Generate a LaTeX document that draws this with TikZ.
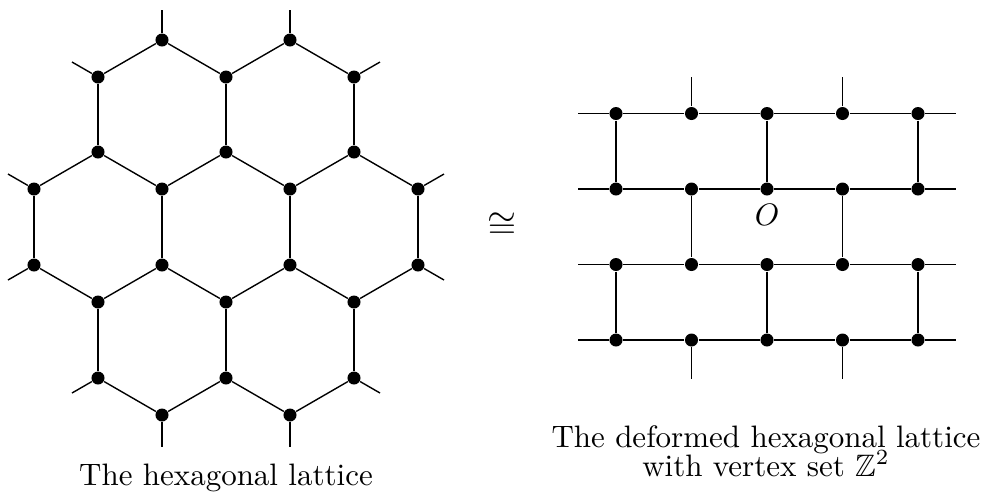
\documentclass[tikz,border=0pt]{standalone}
\usepackage{amsmath,amssymb}
\usetikzlibrary{positioning}

\begin{document}
\begin{tikzpicture}[
    x=0.3226pt, y=-0.3226pt,
    dot/.style={circle, fill=black, inner sep=0pt, minimum size=4.2pt},
    edge/.style={line width=0.45pt},
    caption/.style={inner sep=0pt, align=center},
  ]
  \useasboundingbox (0,0) rectangle (987,491);
  % hexagonal lattice, vertices h<col>-<row>
  \foreach \i/\j/\y in {2/0/40, 4/0/40, 1/1/77, 3/1/77, 5/1/77,
      1/2/152, 3/2/152, 5/2/152, 0/3/189, 2/3/189, 4/3/189, 6/3/189,
      0/4/265, 2/4/265, 4/4/265, 6/4/265, 1/5/302, 3/5/302, 5/5/302,
      1/6/378, 3/6/378, 5/6/378, 2/7/415, 4/7/415}
    \node[dot] (h\i-\j) at ({34+64*\i},\y) {};
  \foreach \a/\b in {2-0/1-1, 2-0/3-1, 4-0/3-1, 4-0/5-1,
      1-1/1-2, 3-1/3-2, 5-1/5-2,
      1-2/0-3, 1-2/2-3, 3-2/2-3, 3-2/4-3, 5-2/4-3, 5-2/6-3,
      0-3/0-4, 2-3/2-4, 4-3/4-4, 6-3/6-4,
      0-4/1-5, 2-4/1-5, 2-4/3-5, 4-4/3-5, 4-4/5-5, 6-4/5-5,
      1-5/1-6, 3-5/3-6, 5-5/5-6,
      1-6/2-7, 3-6/2-7, 3-6/4-7, 5-6/4-7}
    \draw[edge] (h\a) -- (h\b);
  % loose ends
  \foreach \v/\x/\y [count=\k] in {2-0/162/10, 4-0/290/10, 1-1/72/62, 5-1/380/62,
      0-3/8/174, 6-3/444/174, 0-4/8/280, 6-4/444/280,
      1-6/72/393, 5-6/380/393, 2-7/162/447, 4-7/290/447}
    {\coordinate (hs\k) at (\x,\y);
     \draw[edge] (h\v) -- (hs\k);}

  \node (iso) at (502,226) {\large$\cong$};

  % deformed lattice, vertices g<col>-<row>
  \foreach \r in {0,...,3} {
    \foreach \c in {0,...,4}
      \node[dot] (g\c-\r) at ({616+75.5*\c},{113.5+75.5*\r}) {};
    \coordinate (gl\r) at (578,{113.5+75.5*\r});
    \coordinate (gr\r) at (956,{113.5+75.5*\r});
    \draw[edge] (gl\r) -- (g0-\r) -- (g1-\r) -- (g2-\r) -- (g3-\r) -- (g4-\r) -- (gr\r);
  }
  \foreach \a/\b in {0-0/0-1, 2-0/2-1, 4-0/4-1, 1-1/1-2, 3-1/3-2,
      0-2/0-3, 2-2/2-3, 4-2/4-3}
    \draw[edge] (g\a) -- (g\b);
  \foreach \v/\x/\y [count=\k] in {1-0/691.5/77, 3-0/842.5/77,
      1-3/691.5/379, 3-3/842.5/379}
    {\coordinate (gs\k) at (\x,\y);
     \draw[edge] (g\v) -- (gs\k);}
  \node[below=2.4pt of g2-1, inner sep=0pt] (origin) {$O$};

  % captions
  \node[caption, anchor=base] (hexcap) at (226,485) {The hexagonal lattice};
  \node[caption, anchor=north] (gridcap) at (766,425.5)
    {The deformed hexagonal lattice\\[-2.9pt] with vertex set $\mathbb{Z}^2$};
\end{tikzpicture}
\end{document}
